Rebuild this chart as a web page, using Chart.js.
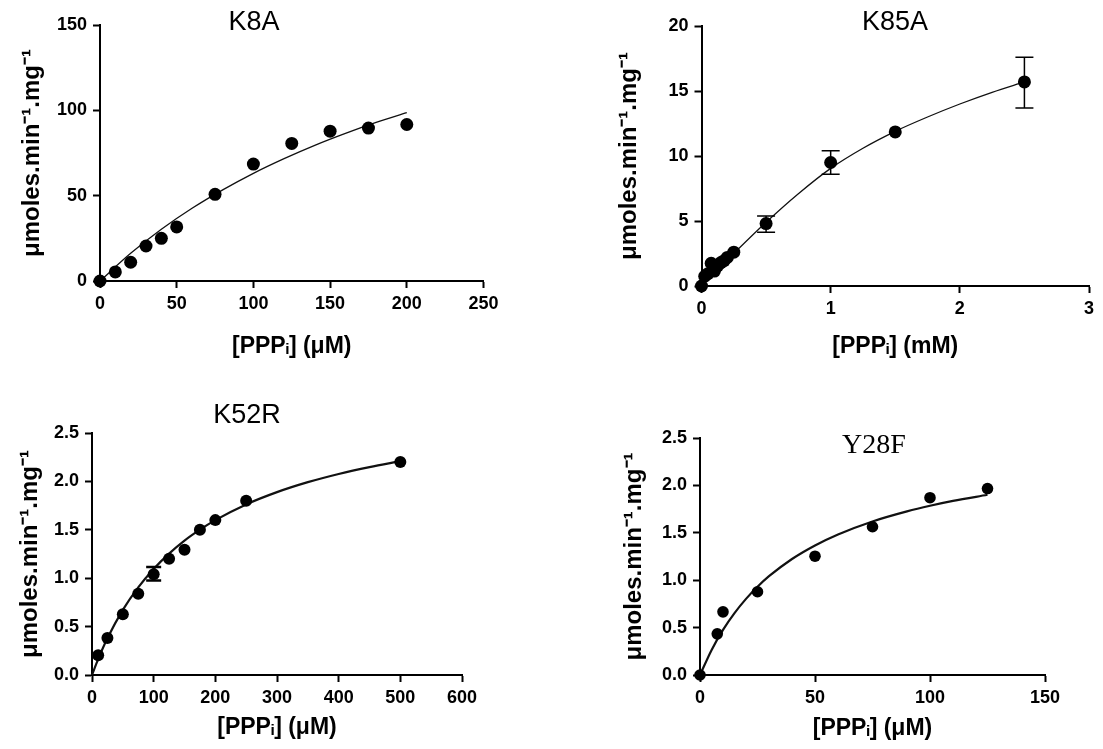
<!DOCTYPE html>
<html>
<head>
<meta charset="utf-8">
<title>PPPi kinetics</title>
<script src="https://cdn.jsdelivr.net/npm/chart.js@4.4.0/dist/chart.umd.min.js"></script>
<style>
  body { margin: 0; background: #fff; }
  #wrap { position: relative; width: 1103px; height: 749px; }
  #wrap canvas { position: absolute; }
</style>
</head>
<body>
<div id="wrap">
  <canvas id="k8a"></canvas>
  <canvas id="k85a"></canvas>
  <canvas id="k52r"></canvas>
  <canvas id="y28f"></canvas>
</div>
<script>
// K8A : rate vs [PPPi] (uM)
const k8aConc = [0, 10, 20, 30, 40, 50, 75, 100, 125, 150, 175, 200];
const k8aRate = [0, 5.3, 11, 20.5, 25, 31.7, 50.8, 68.5, 80.6, 87.8, 89.6, 91.7];
const k8aFitX = [0, 20, 40, 60, 80, 100, 120, 140, 160, 180, 200];
const k8aFitY = [0, 16.2, 30.3, 42.6, 53.4, 63.1, 71.7, 79.5, 86.5, 92.9, 98.7];
const k8aYTicks = [0, 150, 50];
const k8aXTicks = [0, 250, 50];

// K85A : rate vs [PPPi] (mM)
const k85aConc = [0, 0.025, 0.05, 0.075, 0.1, 0.125, 0.15, 0.175, 0.2, 0.25, 0.5, 1, 1.5, 2.5];
const k85aRate = [0, 0.75, 0.95, 1.75, 1.15, 1.55, 1.8, 1.95, 2.2, 2.6, 4.8, 9.5, 11.85, 15.7];
const k85aErrX = [0.5, 1, 2.5];
const k85aErrLo = [4.13, 8.6, 13.7];
const k85aErrHi = [5.38, 10.4, 17.6];
const k85aFitX = [0, 0.1, 0.25, 0.5, 0.75, 1, 1.25, 1.5, 1.75, 2, 2.25, 2.5];
const k85aFitY = [0, 1.0, 2.5, 4.9, 7.1, 9.05, 10.6, 11.9, 13.0, 14.0, 14.9, 15.7];
const k85aYTicks = [0, 20, 5];
const k85aXTicks = [0, 3, 1];

// K52R : rate vs [PPPi] (uM)
const k52rConc = [10, 25, 50, 75, 100, 125, 150, 175, 200, 250, 500];
const k52rRate = [0.205, 0.383, 0.628, 0.84, 1.04, 1.2, 1.294, 1.5, 1.6, 1.8, 2.2];
const k52rErrX = [100];
const k52rErrLo = [0.975];
const k52rErrHi = [1.115];
const k52rFitX = [0, 10, 25, 50, 75, 100, 125, 150, 175, 200, 250, 300, 350, 400, 450, 500];
const k52rFitY = [0, 0.164, 0.379, 0.673, 0.906, 1.096, 1.254, 1.388, 1.501, 1.6, 1.762, 1.889, 1.992, 2.077, 2.148, 2.209];
const k52rYTicks = [0, 2.5, 0.5];
const k52rXTicks = [0, 600, 100];

// Y28F : rate vs [PPPi] (uM)
const y28fConc = [0, 7.5, 10, 25, 50, 75, 100, 125];
const y28fRate = [0, 0.434, 0.666, 0.878, 1.253, 1.564, 1.87, 1.967];
const y28fFitX = [0, 5, 10, 15, 20, 25, 30, 40, 50, 60, 75, 90, 100, 110, 125];
const y28fFitY = [0, 0.262, 0.476, 0.653, 0.803, 0.931, 1.042, 1.224, 1.367, 1.483, 1.62, 1.726, 1.785, 1.836, 1.901];
const y28fYTicks = [0, 2.5, 0.5];
const y28fXTicks = [0, 150, 50];

const yLabel = 'μmoles.min⁻¹.mg⁻¹';
const xLabelUM = '[PPPᵢ] (μM)';
const xLabelMM = '[PPPᵢ] (mM)';

const SANS = "'Liberation Sans', Arial, Helvetica, sans-serif";
const SERIF = "'Liberation Serif', 'Times New Roman', serif";
const axisTitleSize = 23;
const titleLine = axisTitleSize * 1.2;

const toPoints = (xs, ys) => xs.map((x, i) => ({x: x, y: ys[i]}));

// vertical error bars with caps
const errorBars = {
  id: 'errorBars',
  afterDatasetsDraw(chart, args, opts) {
    if (!opts.x) return;
    const ctx = chart.ctx;
    const xs = chart.scales.x, ys = chart.scales.y;
    ctx.save();
    ctx.strokeStyle = '#000';
    ctx.lineWidth = opts.width;
    opts.x.forEach((v, i) => {
      const px = xs.getPixelForValue(v);
      const lo = ys.getPixelForValue(opts.lo[i]);
      const hi = ys.getPixelForValue(opts.hi[i]);
      ctx.beginPath();
      ctx.moveTo(px, lo); ctx.lineTo(px, hi);
      ctx.moveTo(px - opts.cap, lo); ctx.lineTo(px + opts.cap, lo);
      ctx.moveTo(px - opts.cap, hi); ctx.lineTo(px + opts.cap, hi);
      ctx.stroke();
    });
    ctx.restore();
  }
};

// mutant name above each plot
const panelTitle = {
  id: 'panelTitle',
  afterDraw(chart, args, opts) {
    const ctx = chart.ctx;
    ctx.save();
    ctx.font = opts.font;
    ctx.fillStyle = '#000';
    ctx.textAlign = 'center';
    ctx.textBaseline = 'middle';
    ctx.fillText(opts.text, opts.x, opts.y);
    ctx.restore();
  }
};

function makePanel(p) {
  const canvas = document.getElementById(p.id);
  const box = p.box, f = p.frame;
  canvas.width = box.w;
  canvas.height = box.h;
  canvas.style.left = box.x + 'px';
  canvas.style.top = box.y + 'px';

  const yW = f.l - box.x;
  const xH = f.xTitle + titleLine / 2 - f.b;
  const tickFont = {family: SANS, size: 18, weight: 'bold'};
  const xTitleFont = {family: SANS, size: axisTitleSize, weight: 'bold'};
  const yTitleFont = {family: SANS, size: 24, weight: 'bold'};
  const grid = {drawOnChartArea: false, drawTicks: true, tickLength: 7, tickColor: '#000', tickWidth: 2};
  const border = {display: true, color: '#000', width: 2};

  return new Chart(canvas, {
    type: 'scatter',
    data: {
      datasets: [
        {
          data: toPoints(p.conc, p.rate),
          pointRadius: p.dot, pointHoverRadius: p.dot,
          backgroundColor: '#000', borderColor: '#000', borderWidth: 0,
          clip: false, order: 0
        },
        {
          data: toPoints(p.fitX, p.fitY),
          showLine: true, pointRadius: 0, pointHoverRadius: 0,
          borderColor: '#111', borderWidth: p.lineW,
          cubicInterpolationMode: 'monotone',
          clip: false, order: 1
        }
      ]
    },
    options: {
      responsive: false,
      animation: false,
      devicePixelRatio: 1,
      layout: {
        padding: {
          left: 0,
          top: f.t - box.y,
          right: box.x + box.w - f.r,
          bottom: box.y + box.h - f.b - xH
        }
      },
      plugins: {
        legend: {display: false},
        tooltip: {enabled: false},
        errorBars: p.err || {},
        panelTitle: {text: p.title, font: p.titleFont, x: p.titlePos[0] - box.x, y: p.titlePos[1] - box.y}
      },
      scales: {
        x: {
          type: 'linear',
          min: p.xTicks[0], max: p.xTicks[1],
          ticks: {stepSize: p.xTicks[2], font: tickFont, color: '#000', padding: 5, maxRotation: 0},
          grid: grid, border: border,
          title: {display: true, text: p.xLabel, font: xTitleFont, color: '#000', padding: {top: 0, bottom: 0}},
          afterFit(s) { s.height = xH; }
        },
        y: {
          type: 'linear',
          min: p.yTicks[0], max: p.yTicks[1],
          ticks: {
            stepSize: p.yTicks[2], font: tickFont, color: '#000', padding: 6,
            callback: v => p.yDecimals ? v.toFixed(p.yDecimals) : v
          },
          grid: grid, border: border,
          title: {display: true, text: yLabel, font: yTitleFont, color: '#000',
                  padding: {top: p.yTitleX - box.x - 14.4, bottom: 0}},
          afterFit(s) { s.width = yW; }
        }
      }
    },
    plugins: [errorBars, panelTitle]
  });
}

makePanel({
  id: 'k8a', box: {x: 0, y: 0, w: 551, h: 375},
  frame: {l: 100, t: 25, r: 483.5, b: 281, xTitle: 347}, yTitleX: 32,
  conc: k8aConc, rate: k8aRate, fitX: k8aFitX, fitY: k8aFitY,
  xTicks: k8aXTicks, yTicks: k8aYTicks, yDecimals: 0,
  xLabel: xLabelUM, dot: 6.5, lineW: 1.3,
  title: 'K8A', titleFont: '27px ' + SANS, titlePos: [254, 23]
});

makePanel({
  id: 'k85a', box: {x: 551, y: 0, w: 552, h: 375},
  frame: {l: 701.5, t: 26, r: 1089, b: 286, xTitle: 347}, yTitleX: 629,
  conc: k85aConc, rate: k85aRate, fitX: k85aFitX, fitY: k85aFitY,
  xTicks: k85aXTicks, yTicks: k85aYTicks, yDecimals: 0,
  err: {x: k85aErrX, lo: k85aErrLo, hi: k85aErrHi, cap: 9, width: 1.5},
  xLabel: xLabelMM, dot: 6.5, lineW: 1.3,
  title: 'K85A', titleFont: '27px ' + SANS, titlePos: [895, 23]
});

makePanel({
  id: 'k52r', box: {x: 0, y: 375, w: 551, h: 374},
  frame: {l: 92, t: 433, r: 462, b: 675, xTitle: 728}, yTitleX: 30,
  conc: k52rConc, rate: k52rRate, fitX: k52rFitX, fitY: k52rFitY,
  xTicks: k52rXTicks, yTicks: k52rYTicks, yDecimals: 1,
  err: {x: k52rErrX, lo: k52rErrLo, hi: k52rErrHi, cap: 7.5, width: 2.5},
  xLabel: xLabelUM, dot: 6, lineW: 2.2,
  title: 'K52R', titleFont: '27px ' + SANS, titlePos: [247, 416]
});

makePanel({
  id: 'y28f', box: {x: 551, y: 375, w: 552, h: 374},
  frame: {l: 700, t: 438, r: 1045, b: 675, xTitle: 729}, yTitleX: 634,
  conc: y28fConc, rate: y28fRate, fitX: y28fFitX, fitY: y28fFitY,
  xTicks: y28fXTicks, yTicks: y28fYTicks, yDecimals: 1,
  xLabel: xLabelUM, dot: 5.8, lineW: 2.2,
  title: 'Y28F', titleFont: '28px ' + SERIF, titlePos: [874, 446]
});
</script>
</body>
</html>
